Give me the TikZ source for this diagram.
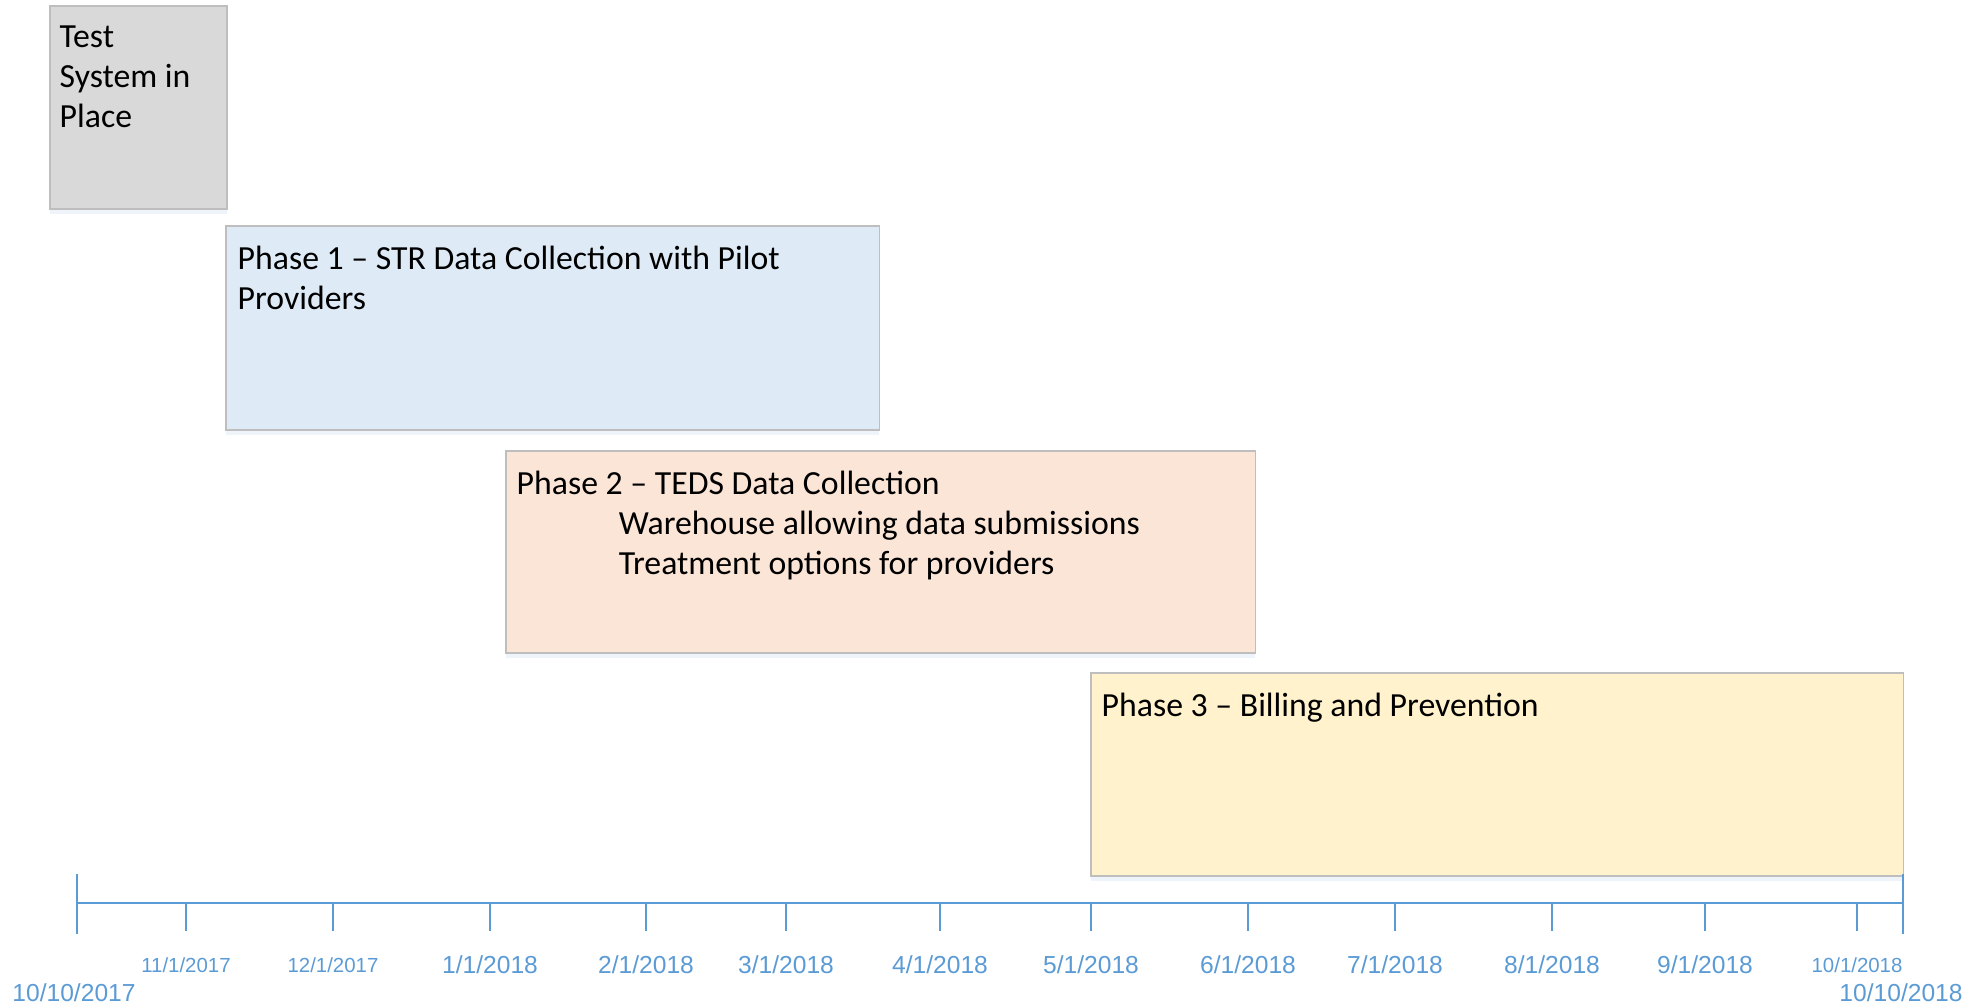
\documentclass[tikz,border=0pt]{standalone}
\usepackage{fontspec}
\setmainfont{Carlito}
\newfontfamily\datefont{Liberation Sans}
\usetikzlibrary{positioning,shadows}
\definecolor{axisBlue}{RGB}{91,155,213}
\definecolor{testFill}{RGB}{217,217,217}
\definecolor{oneFill}{RGB}{222,235,247}
\definecolor{twoFill}{RGB}{251,229,214}
\definecolor{threeFill}{RGB}{255,242,204}
\definecolor{edgeGray}{RGB}{190,190,190}

\begin{document}
\begin{tikzpicture}[x=0.01cm,y=-0.01cm,font=\fontsize{9.6}{11.4}\selectfont,
 phase/.style={draw=edgeGray,line width=0.5pt,anchor=north west,inner sep=0pt,outer sep=0pt,
  drop shadow={shadow xshift=0pt,shadow yshift=-1.5pt,opacity=.3,fill=axisBlue!35}},
 caption/.style={anchor=north west,align=left,inner sep=0pt},
 axis/.style={draw=axisBlue,line width=0.8pt},
 date/.style={text=axisBlue,font=\datefont\fontsize{7}{8}\selectfont,inner sep=0pt},
 smalldate/.style={date,font=\datefont\fontsize{5.8}{7}\selectfont}]
\useasboundingbox (0,0) rectangle (1970,1005);
% phases
\node[phase,fill=testFill,minimum width=1.77cm,minimum height=2.03cm] (test) at (50,6) {};
\node[phase,fill=oneFill,minimum width=6.53cm,minimum height=2.04cm] (one) at (226,226) {};
\node[phase,fill=twoFill,minimum width=7.49cm,minimum height=2.02cm] (two) at (506,451) {};
\node[phase,fill=threeFill,minimum width=8.12cm,minimum height=2.03cm] (three) at (1091,673) {};
\node[caption] (testtxt) at ([shift={(9,19)}]test.north west) {Test\\System in\\Place};
\node[caption] (onetxt) at ([shift={(11,19)}]one.north west) {Phase 1 – STR Data Collection with Pilot\\Providers};
\node[caption] (twotxt) at ([shift={(10,19)}]two.north west) {Phase 2 – TEDS Data Collection\\\hspace*{1.02cm}Warehouse allowing data submissions\\\hspace*{1.02cm}Treatment options for providers};
\node[caption] (threetxt) at ([shift={(10,19)}]three.north west) {Phase 3 – Billing and Prevention};
% time line
\coordinate (start) at (77,903);
\coordinate (end) at (1903,903);
\draw[axis] (start) -- (end);
\draw[axis] ([shift={(0,-29)}]start) -- ([shift={(0,31)}]start);
\draw[axis] ([shift={(0,-29)}]end) -- ([shift={(0,31)}]end);
\foreach \x/\m/\yr in {186/11/2017,333/12/2017,1857/10/2018}{
 \draw[axis] (\x,903) -- (\x,931);
 \node[smalldate] (d\m) at (\x,965) {\m/1/\yr};
}
\foreach \x/\m/\yr in {490/1/2018,646/2/2018,786/3/2018,940/4/2018,1091/5/2018,1248/6/2018,1395/7/2018,1552/8/2018,1705/9/2018}{
 \draw[axis] (\x,903) -- (\x,931);
 \node[date] (d\m) at (\x,965) {\m/1/\yr};
}
\node[date] (first) at (74,993) {10/10/2017};
\node[date] (last) at (1901,993) {10/10/2018};
\end{tikzpicture}
\end{document}
